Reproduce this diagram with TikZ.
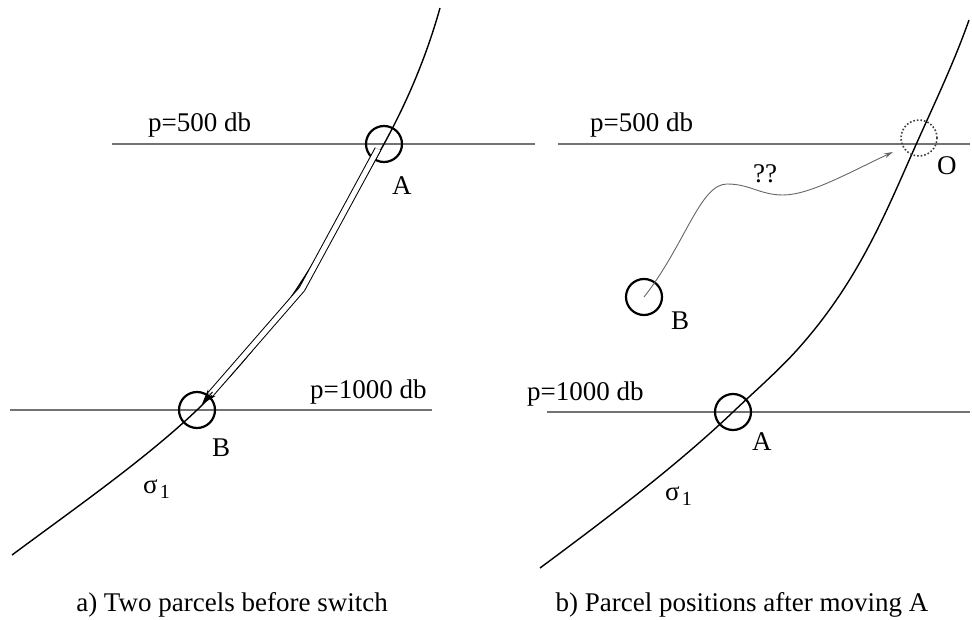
\documentclass[tikz,border=0pt]{standalone}
\usepackage{fontspec}
\setmainfont{Liberation Serif}
\usetikzlibrary{arrows.meta,calc}
\begin{document}
\begin{tikzpicture}[x=1pt,y=-1pt,
  font=\fontsize{27}{31}\selectfont,
  level/.style={draw=black!55, line width=1.2pt},
  iso/.style={draw=black, line width=1.4pt},
  parcel/.style={circle, draw, line width=2.2pt, minimum size=36pt, inner sep=0pt},
  ghost/.style={circle, draw=black!75, dotted, line width=1.6pt, minimum size=36pt, inner sep=0pt},
  lbl/.style={anchor=base west, inner sep=0pt},
  captext/.style={anchor=base, inner sep=0pt},
]
\useasboundingbox (0,0) rectangle (972,620);

% ---------- panel a ----------
\draw[level] (112,144) -- (535,144);
\draw[level] (10,410) -- (432,410);
\draw[iso] (440,8) .. controls (427.3,53.3) and (408.9,98.7) .. (384,144)
  .. controls (357.8,191.7) and (329,239.3) .. (298,287)
  .. controls (271.4,328) and (240,369) .. (197,410)
  .. controls (146.3,458.3) and (77.2,506.7) .. (12,555);
\node[parcel] (A1) at (384,144) {};
\node[parcel] (B1) at (197,410) {};
\coordinate (kink) at (302,289);
\coordinate (tip) at (202,404);
\draw[line width=1pt, double, double distance=5pt]
  ($(A1.center)+(-6,5)$) -- (kink) -- ($(tip)!13pt!(kink)$);
\draw[line width=1pt, -{Stealth[length=15pt,width=10pt]}] ($(tip)!16pt!(kink)$) -- (tip);
\node[lbl] (pa500) at (148,132) {p=500 db};
\node[lbl] (pa1000) at (310,398) {p=1000 db};
\node[lbl] (la) at (392,195) {A};
\node[lbl] (lb) at (212,456) {B};
\node[lbl] (siga) at (143,493) {σ\hspace{2pt}\raisebox{-5pt}{\fontsize{20}{22}\selectfont 1}};
\node[captext] (capa) at (232,611) {a) Two parcels before switch};

% ---------- panel b ----------
\draw[level] (558,144) -- (970,144);
\draw[level] (547,412) -- (970,412);
\draw[iso] (969,20) .. controls (955.2,59.3) and (936.7,98.7) .. (919,138)
  .. controls (887.2,208.7) and (860.6,279.3) .. (797,350)
  .. controls (778.4,370.7) and (754.7,391.3) .. (733,412)
  .. controls (678.4,464) and (610.2,516) .. (540,568);
\node[ghost] (O2) at (919,138) {};
\node[parcel] (A2) at (733,412) {};
\node[parcel] (B2) at (644,297) {};
\coordinate (otip) at (893,152);
\draw[black!60, line width=0.9pt, -{Stealth[length=9pt,width=5pt]}]
  (B2.center) .. controls (685,245) and (700,184) .. (727,184)
  .. controls (750,184) and (760,195) .. (783,195)
  .. controls (810,195) and (850,172) .. (otip);
\node[lbl] (pb500) at (590,132) {p=500 db};
\node[lbl] (pb1000) at (527,400) {p=1000 db};
\node[lbl] (lo) at (937,175) {O};
\node[lbl] (lq) at (753,183) {??};
\node[lbl] (lb2) at (671,330) {B};
\node[lbl] (la2) at (752,450) {A};
\node[lbl] (sigb) at (665,500) {σ\hspace{2pt}\raisebox{-5pt}{\fontsize{20}{22}\selectfont 1}};
\node[captext] (capb) at (742,611) {b) Parcel positions after moving A};
\end{tikzpicture}
\end{document}
